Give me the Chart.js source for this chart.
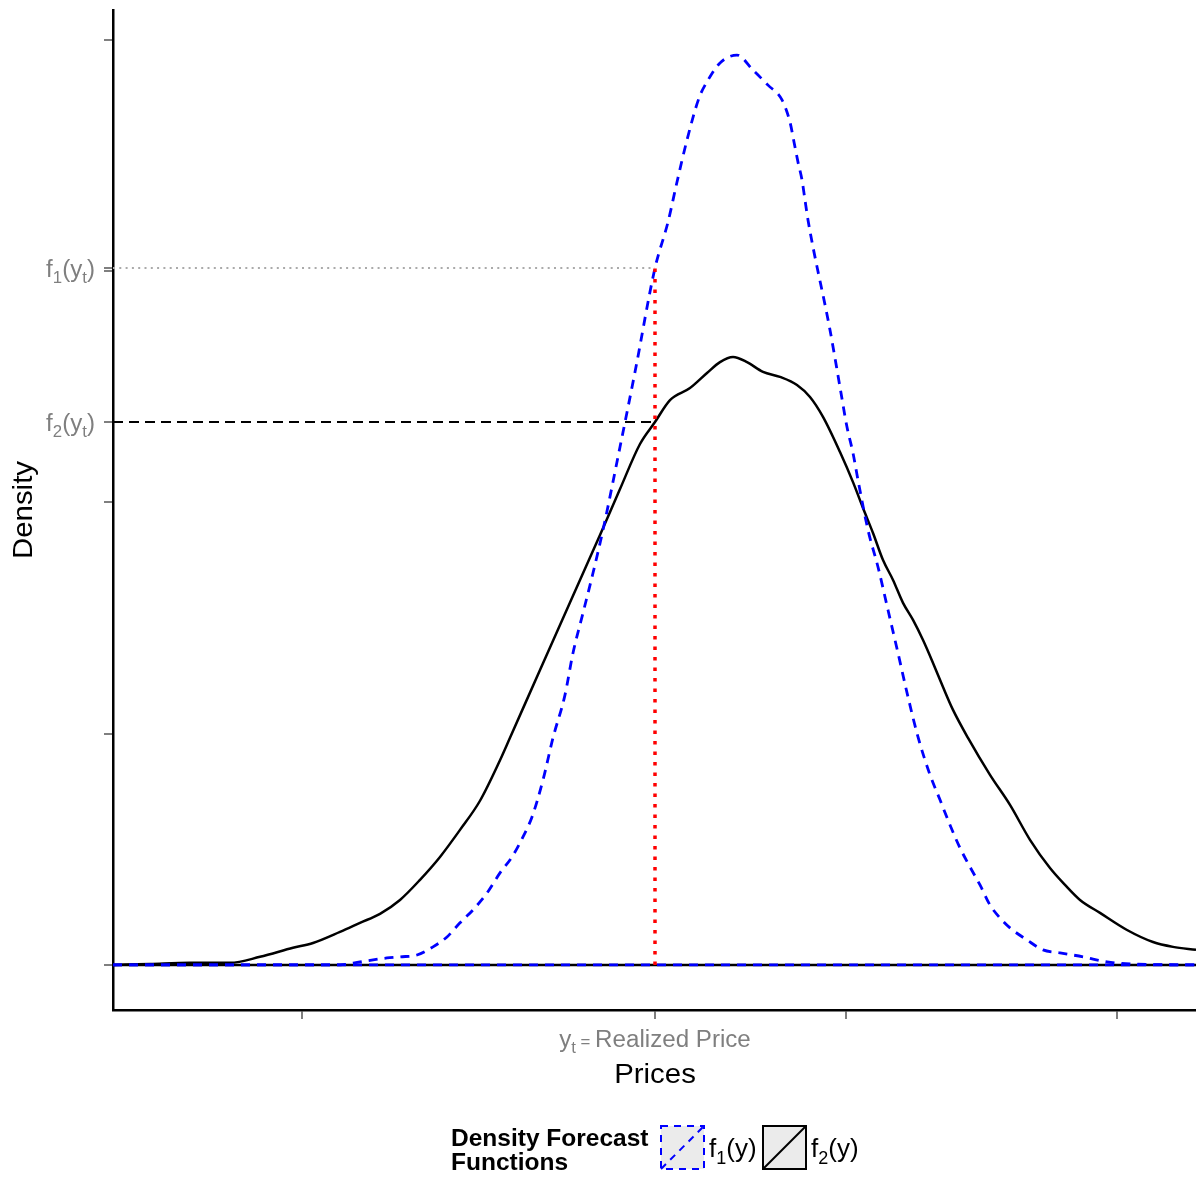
<!DOCTYPE html>
<html>
<head>
<meta charset="utf-8">
<script src="https://cdn.jsdelivr.net/npm/chart.js@4.4.1/dist/chart.umd.min.js"></script>
<style>
  html, body { margin: 0; padding: 0; background: #fff; }
  #wrap { width: 1196px; height: 1180px; position: relative; }
</style>
</head>
<body>
<div id="wrap"><canvas id="densityChart"></canvas></div>
<script>
// f1: blue dashed density forecast
var f1Prices = [0, 22.7, 24.7, 27.4, 28.7, 30.4, 32.0, 33.4, 34.7, 36.0, 37.4, 38.7, 39.9, 41.0, 41.9, 43.0, 44.0, 45.2, 46.0, 47.0, 48.0, 49.0, 50.7, 52.2, 54.2, 55.5, 56.4, 57.4, 58.6, 59.5, 60.7, 62.4, 64.0, 65.5, 66.9, 67.7, 68.1, 68.5, 68.9, 69.2, 69.5, 71.7, 72.7, 73.4, 74.0, 74.5, 75.5, 76.5, 77.5, 78.5, 79.5, 80.5, 81.7, 82.7, 83.7, 84.7, 85.7, 86.7, 87.7, 88.7, 89.7, 91.4, 93.0, 94.7, 97.0, 99.4, 101.7, 108.3];
var f1Density = [0, 0, 0.13, 0.30, 0.35, 0.43, 0.78, 1.21, 1.82, 2.38, 3.11, 3.98, 4.67, 5.54, 6.40, 8.00, 9.82, 11.68, 13.49, 15.22, 16.95, 18.81, 22.40, 25.64, 30.14, 32.13, 33.86, 35.68, 37.49, 38.27, 39.01, 39.35, 38.70, 38.05, 37.41, 36.45, 35.59, 34.72, 33.95, 33.08, 32.22, 27.46, 24.99, 23.26, 22.14, 20.97, 18.81, 17.21, 15.35, 13.49, 11.59, 9.86, 8.22, 7.14, 6.05, 5.06, 4.24, 3.46, 2.59, 2.03, 1.60, 1.08, 0.65, 0.52, 0.35, 0.13, 0.04, 0];

// f2: black solid density forecast
var f2Prices = [0, 3.7, 7.7, 11.7, 14.7, 18.0, 20.0, 22.7, 24.7, 26.7, 28.7, 30.7, 32.7, 34.7, 36.7, 38.7, 39.7, 42.7, 44.7, 46.7, 48.7, 50.7, 52.7, 54.2, 55.7, 57.7, 59.4, 60.7, 62.0, 63.4, 65.0, 66.7, 68.4, 69.7, 71.0, 72.7, 74.0, 75.0, 76.0, 77.0, 78.0, 79.0, 80.0, 81.0, 82.0, 83.0, 84.0, 85.5, 87.7, 89.7, 91.7, 93.7, 95.2, 96.7, 98.7, 101.4, 104.0, 106.0, 108.3];
var f2Density = [0, 0.04, 0.09, 0.09, 0.35, 0.74, 0.95, 1.43, 1.82, 2.21, 2.81, 3.68, 4.67, 5.84, 7.10, 8.85, 9.82, 12.76, 14.70, 16.65, 18.59, 20.58, 22.53, 23.48, 24.43, 24.95, 25.60, 26.07, 26.29, 26.07, 25.65, 25.43, 25.08, 24.56, 23.70, 22.18, 20.88, 19.76, 18.68, 17.51, 16.65, 15.66, 14.92, 14.05, 13.06, 12.02, 11.03, 9.82, 8.22, 6.92, 5.41, 4.19, 3.46, 2.81, 2.25, 1.51, 0.99, 0.78, 0.65];

var realizedPrice = 54.2;
var f1AtRealized = 30.14;
var f2AtRealized = 23.48;
var priceRange = [0, 108.3];
var densityRange = [-1.95, 41.3];
var priceTicks = [18.9, 54.2, 73.3, 100.4];
var densityTicks = [0, 10, 20, f2AtRealized, 30, f1AtRealized, 40];

function zip(xs, ys) {
    return xs.map(function (x, i) { return { x: x, y: ys[i] }; });
}

var FONT = '"Liberation Sans", Arial, Helvetica, sans-serif';
var AXIS_STRETCH = 1.05;

// draws text pieces; mode 0 = normal, 1 = subscript, 2 = small on baseline
function richText(ctx, parts, x, y, opts) {
    var size = opts.size, sub = opts.sub || Math.round(size * 0.7);
    var stretch = opts.stretch || 1;
    var bold = opts.bold ? 'bold ' : '';
    var w = 0;
    parts.forEach(function (p) {
        ctx.font = bold + (p[1] ? sub : size) + 'px ' + FONT;
        w += ctx.measureText(p[0]).width;
    });
    ctx.save();
    ctx.translate(x, y);
    if (opts.rotate) ctx.rotate(opts.rotate);
    ctx.scale(stretch, 1);
    var cx = opts.align === 'right' ? -w : opts.align === 'center' ? -w / 2 : 0;
    ctx.fillStyle = opts.color;
    ctx.textAlign = 'left';
    ctx.textBaseline = 'alphabetic';
    parts.forEach(function (p) {
        ctx.font = bold + (p[1] ? sub : size) + 'px ' + FONT;
        ctx.fillText(p[0], cx, p[1] === 1 ? size * 0.27 : 0);
        cx += ctx.measureText(p[0]).width;
    });
    ctx.restore();
}

var annotations = {
    id: 'annotations',
    afterDraw: function (chart) {
        var ctx = chart.ctx;
        var xs = chart.scales.x, ys = chart.scales.y;
        var gray = '#7f7f7f';

        // y tick labels
        richText(ctx, [['f', 0], ['1', 1], ['(y', 0], ['t', 1], [')', 0]], 95, ys.getPixelForValue(f1AtRealized) + 8.5,
            { size: 23, sub: 16, color: gray, align: 'right', stretch: AXIS_STRETCH });
        richText(ctx, [['f', 0], ['2', 1], ['(y', 0], ['t', 1], [')', 0]], 95, ys.getPixelForValue(f2AtRealized) + 8.5,
            { size: 23, sub: 16, color: gray, align: 'right', stretch: AXIS_STRETCH });

        // x tick label
        richText(ctx, [['y', 0], ['t', 1], [' = ', 2], ['Realized Price', 0]], xs.getPixelForValue(realizedPrice), 1047,
            { size: 23, sub: 16, color: gray, align: 'center', stretch: AXIS_STRETCH });

        // axis titles
        richText(ctx, [['Prices', 0]], xs.getPixelForValue(realizedPrice), 1083,
            { size: 28, color: '#000', align: 'center', stretch: AXIS_STRETCH });
        richText(ctx, [['Density', 0]], 32, 510,
            { size: 28, color: '#000', align: 'center', stretch: AXIS_STRETCH, rotate: -Math.PI / 2 });

        // legend
        richText(ctx, [['Density Forecast', 0]], 451, 1146, { size: 24.5, color: '#000', bold: true });
        richText(ctx, [['Functions', 0]], 451, 1170, { size: 24.5, color: '#000', bold: true });

        ctx.save();
        ctx.fillStyle = '#ebebeb';
        ctx.fillRect(661, 1126, 43, 43);
        ctx.fillRect(763, 1126, 43, 43);
        ctx.lineWidth = 2;
        ctx.strokeStyle = '#0000ff';
        ctx.setLineDash([7, 6]);
        ctx.strokeRect(661, 1126, 43, 43);
        ctx.beginPath();
        ctx.moveTo(661, 1169);
        ctx.lineTo(704, 1126);
        ctx.stroke();
        ctx.setLineDash([]);
        ctx.strokeStyle = '#000';
        ctx.strokeRect(763, 1126, 43, 43);
        ctx.beginPath();
        ctx.moveTo(763, 1169);
        ctx.lineTo(806, 1126);
        ctx.stroke();
        ctx.restore();

        richText(ctx, [['f', 0], ['1', 1], ['(y)', 0]], 709, 1157, { size: 26, sub: 18, color: '#000' });
        richText(ctx, [['f', 0], ['2', 1], ['(y)', 0]], 811, 1157, { size: 26, sub: 18, color: '#000' });
    }
};

var ctx = document.getElementById('densityChart').getContext('2d');

var densityChart = new Chart(ctx, {
    type: 'line',
    data: {
        datasets: [{
            label: 'realized',
            data: [{ x: realizedPrice, y: 0 }, { x: realizedPrice, y: f1AtRealized }],
            borderColor: '#ff0000',
            borderWidth: 3.5,
            borderDash: [3.5, 7],
            order: 0
        }, {
            label: 'f1(y)',
            data: zip(f1Prices, f1Density),
            borderColor: '#0000ff',
            borderWidth: 2.8,
            borderDash: [9, 7],
            cubicInterpolationMode: 'monotone',
            order: 1
        }, {
            label: 'f1 base',
            data: [{ x: priceRange[0], y: 0 }, { x: priceRange[1], y: 0 }],
            borderColor: '#0000ff',
            borderWidth: 2.8,
            borderDash: [9, 7],
            order: 2
        }, {
            label: 'f2(y)',
            data: zip(f2Prices, f2Density),
            borderColor: '#000000',
            borderWidth: 2.5,
            cubicInterpolationMode: 'monotone',
            order: 3
        }, {
            label: 'f2 base',
            data: [{ x: priceRange[0], y: 0 }, { x: priceRange[1], y: 0 }],
            borderColor: '#000000',
            borderWidth: 2.5,
            order: 4
        }, {
            label: 'f1 level',
            data: [{ x: priceRange[0], y: f1AtRealized }, { x: realizedPrice, y: f1AtRealized }],
            borderColor: '#aaaaaa',
            borderWidth: 2,
            borderDash: [2, 4.3],
            order: 5
        }, {
            label: 'f2 level',
            data: [{ x: priceRange[0], y: f2AtRealized }, { x: realizedPrice, y: f2AtRealized }],
            borderColor: '#000000',
            borderWidth: 2.2,
            borderDash: [10, 6],
            order: 6
        }]
    },
    options: {
        responsive: true,
        maintainAspectRatio: false,
        animation: false,
        events: [],
        layout: { padding: { top: 10, left: 0, right: 0, bottom: 0 } },
        elements: { point: { radius: 0 }, line: { fill: false } },
        plugins: { legend: { display: false }, tooltip: { enabled: false } },
        scales: {
            x: {
                type: 'linear',
                min: priceRange[0],
                max: priceRange[1],
                afterBuildTicks: function (scale) {
                    scale.ticks = priceTicks.map(function (v) { return { value: v }; });
                },
                afterFit: function (scale) { scale.height = 170; },
                ticks: { display: false },
                grid: { drawOnChartArea: false, drawTicks: true, tickLength: 9, color: '#7f7f7f', lineWidth: 2 },
                border: { display: true, color: '#000', width: 2.5 }
            },
            y: {
                type: 'linear',
                min: densityRange[0],
                max: densityRange[1],
                afterBuildTicks: function (scale) {
                    scale.ticks = densityTicks.map(function (v) { return { value: v }; });
                },
                afterFit: function (scale) { scale.width = 113; },
                ticks: { display: false },
                grid: { drawOnChartArea: false, drawTicks: true, tickLength: 9, color: '#7f7f7f', lineWidth: 2 },
                border: { display: true, color: '#000', width: 2.5 }
            }
        }
    },
    plugins: [annotations]
});
</script>
</body>
</html>
